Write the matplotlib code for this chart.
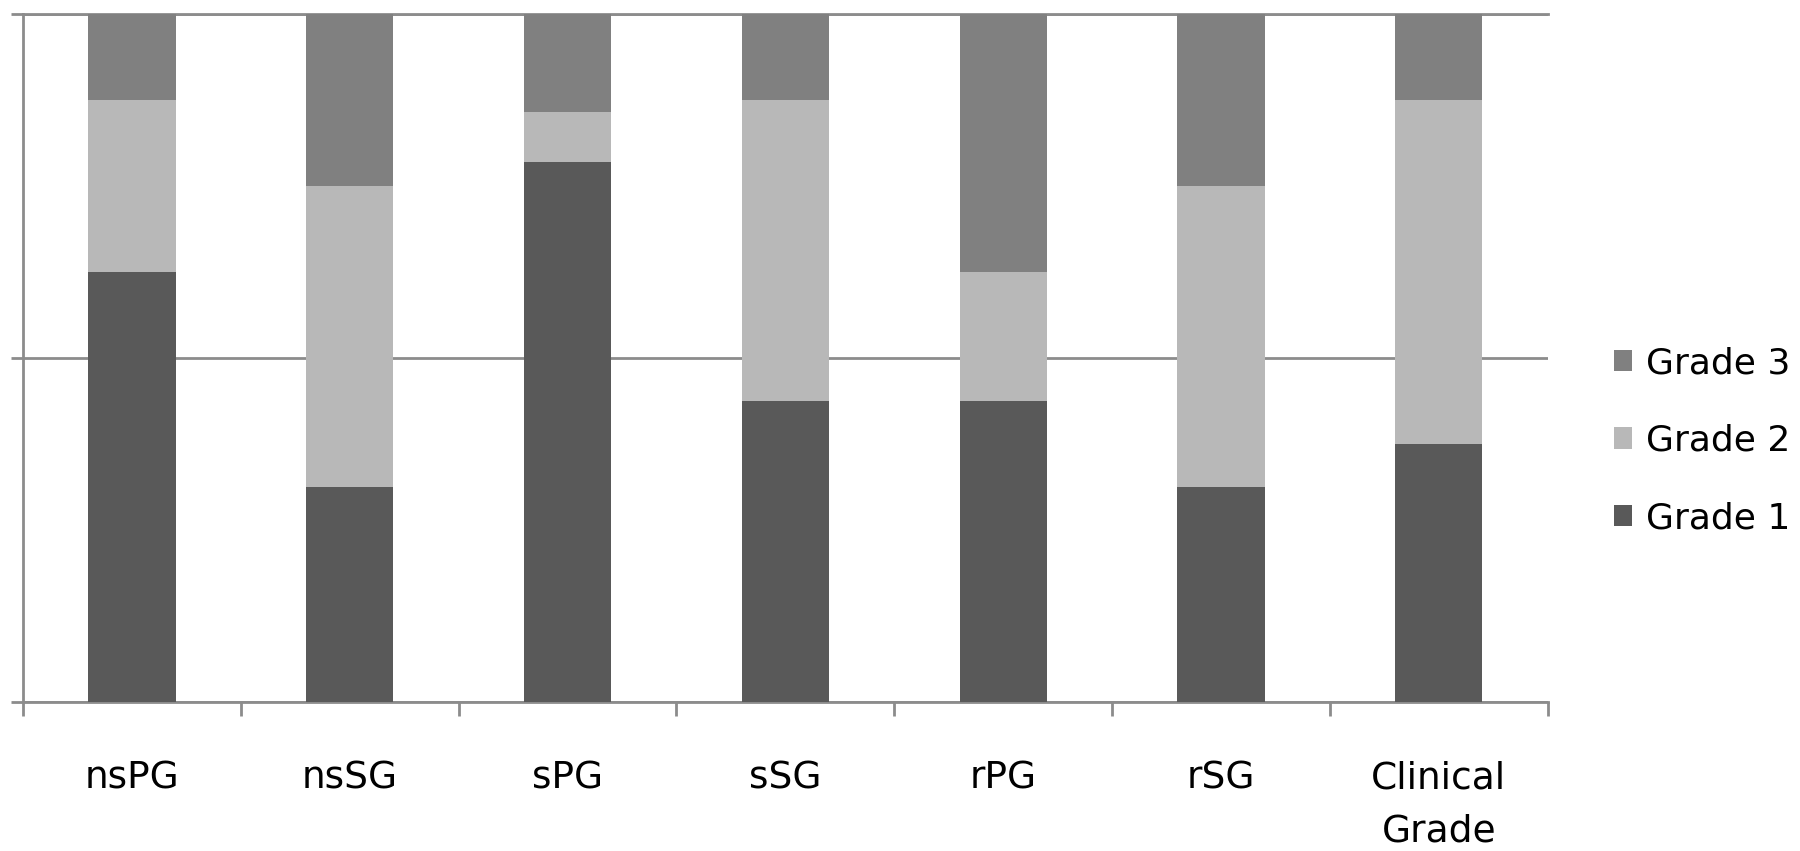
import matplotlib
matplotlib.use("Agg")
import matplotlib.pyplot as plt
import numpy as np

# share of each grade per grading method
categories = ["nsPG", "nsSG", "sPG", "sSG", "rPG", "rSG", "Clinical\nGrade"]
grade1 = [0.625, 0.3125, 0.785, 0.4375, 0.4375, 0.3125, 0.375]
grade2 = [0.25, 0.4375, 0.073, 0.4375, 0.1875, 0.4375, 0.50]
grade3 = [0.125, 0.25, 0.142, 0.125, 0.375, 0.25, 0.125]

colors = {"Grade 1": "#595959", "Grade 2": "#b8b8b8", "Grade 3": "#808080"}
axis_grey = "#8c8c8c"

plt.rcParams["font.family"] = ["DejaVu Sans"]

fig = plt.figure(figsize=(18, 8.51), dpi=100)
ax = fig.add_axes([0.0128, 0.175, 0.847, 0.8085])

x = np.arange(len(categories))
w = 0.4
b1 = ax.bar(x, grade1, w, color=colors["Grade 1"], label="Grade 1", zorder=3)
b2 = ax.bar(x, grade2, w, bottom=grade1, color=colors["Grade 2"], label="Grade 2", zorder=3)
bottom3 = np.array(grade1) + np.array(grade2)
b3 = ax.bar(x, grade3, w, bottom=bottom3, color=colors["Grade 3"], label="Grade 3", zorder=3)

ax.set_xlim(-0.5, len(categories) - 0.5)
ax.set_ylim(0, 1)

# gridlines at 50% and 100%
ax.set_yticks([0, 0.5, 1.0])
ax.set_yticklabels([])
ax.yaxis.grid(True, color=axis_grey, linewidth=2, zorder=0)
ax.tick_params(axis="y", direction="out", length=9, width=2, color=axis_grey)

# category labels centred, tick marks on the boundaries
ax.set_xticks(x)
ax.set_xticklabels(categories, fontsize=27, linespacing=1.6, va="top")
ax.set_xticks(np.arange(-0.5, len(categories), 1.0), minor=True)
ax.tick_params(axis="x", which="major", length=0, pad=42)
ax.tick_params(axis="x", which="minor", direction="out", length=10, width=2, color=axis_grey)

ax.spines["right"].set_visible(False)
for side in ["left", "bottom", "top"]:
    ax.spines[side].set_color(axis_grey)
    ax.spines[side].set_linewidth(2)

handles = [b3, b2, b1]
fig.legend(handles, ["Grade 3", "Grade 2", "Grade 1"], loc="center left",
           bbox_to_anchor=(0.8965, 0.482), frameon=False, fontsize=26,
           handlelength=0.52, handleheight=0.52, handletextpad=0.38,
           labelspacing=1.2, borderpad=0, borderaxespad=0)

fig.savefig("out.png", dpi=100, facecolor="white")
